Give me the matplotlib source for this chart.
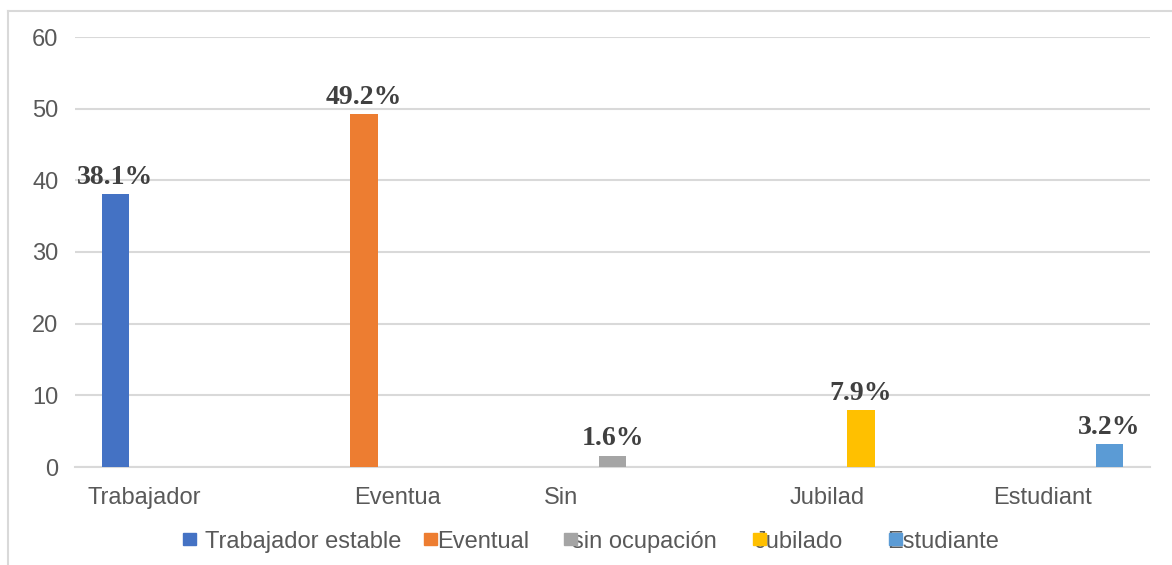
import matplotlib.pyplot as plt
from matplotlib.lines import Line2D
from matplotlib.patches import Rectangle
import numpy as np

# data
categories = ["Trabajador", "Eventua", "Sin", "Jubilad", "Estudiant"]
series = ["Trabajador estable", "Eventual", "sin ocupación", "Jubilado", "Estudiante"]
values = [38.1, 49.2, 1.6, 7.9, 3.2]  # each series only has a value in its own category
colors = ["#4472c4", "#ed7d31", "#a5a5a5", "#ffc000", "#5b9bd5"]

plt.rcParams["font.family"] = ["Liberation Sans", "DejaVu Sans"]
fig = plt.figure(figsize=(11.72, 5.65), dpi=100)
ax = fig.add_axes([75 / 1172, 1 - 467 / 565, 1075 / 1172, 430 / 565])

grey = "#d9d9d9"
txt = "#595959"

n = len(series)
x = np.arange(len(categories))
slot = 0.156
width = 0.126
for i in range(n):
    offs = (i - (n - 1) / 2) * slot
    bars = ax.bar(x[i] + offs, values[i], width, color=colors[i], zorder=3)
    ax.bar_label(bars, labels=["%.1f%%" % values[i]], padding=3,
                 fontfamily="Liberation Serif", fontweight="bold",
                 fontsize=20, color="#404040")

ax.set_xlim(-0.5, len(categories) - 0.5)
ax.set_ylim(0, 60)
ax.set_yticks(range(0, 61, 10))
ax.yaxis.grid(True, color=grey, linewidth=1.5, zorder=0)
for s in ["top", "right", "left"]:
    ax.spines[s].set_visible(False)
ax.spines["bottom"].set_color(grey)
ax.spines["bottom"].set_linewidth(1.5)
ax.tick_params(axis="y", length=0, labelsize=17, labelcolor=txt, pad=12)
ax.set_xticks([])

# category labels (two of them sit off-centre like in the source)
shift = [-0.18, 0, -0.24, 0, 0]
for j, lab in enumerate(categories):
    ax.text(x[j] + shift[j], -2.8, lab, ha="center", va="top",
            fontsize=17, color=txt, transform=ax.transData, clip_on=False)

# legend drawn by hand to keep the overlapping look of the original
sq_x = [183, 424, 564, 753, 889]
tx_x = [205, 437, 572, 755, 887]
for i in range(n):
    fig.text(tx_x[i] / 1172, (565 - 542) / 565, series[i], ha="left", va="center",
             fontsize=17, color=txt, zorder=1)
    fig.patches.append(Rectangle((sq_x[i] / 1172, (565 - 545) / 565), 13 / 1172, 12 / 565,
                                 transform=fig.transFigure, color=colors[i], zorder=2))

# chart frame (cut off at right and bottom)
fig.lines.append(Line2D([8 / 1172, 1.0], [1 - 11 / 565, 1 - 11 / 565],
                        transform=fig.transFigure, color=grey, linewidth=1.5))
fig.lines.append(Line2D([8 / 1172, 8 / 1172], [1 - 11 / 565, 0],
                        transform=fig.transFigure, color=grey, linewidth=1.5))

plt.savefig("out.png", dpi=100)
plt.close()
